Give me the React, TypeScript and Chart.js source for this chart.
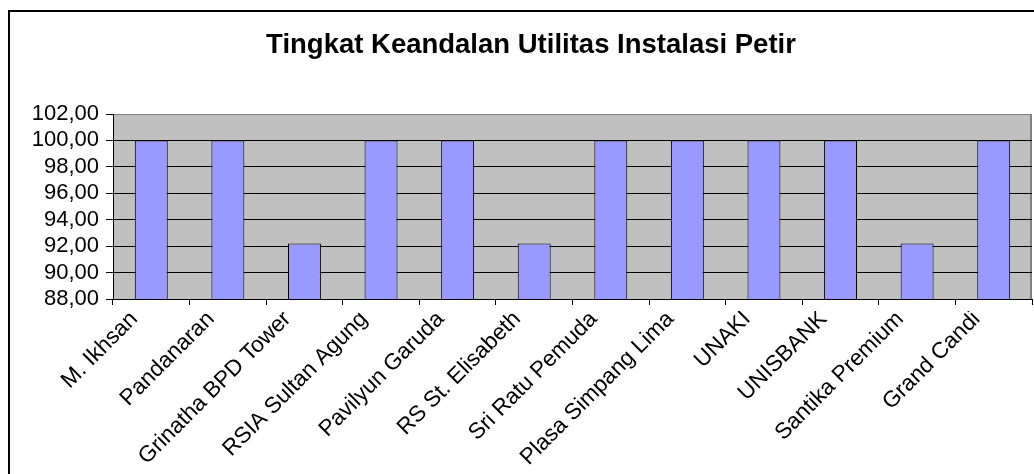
import React, { useEffect, useRef } from 'react';
import { Chart, registerables } from 'chart.js';

Chart.register(...registerables);

const chartTitle = 'Tingkat Keandalan Utilitas Instalasi Petir';
const categories = [
  'M. Ikhsan',
  'Pandanaran',
  'Grinatha BPD Tower',
  'RSIA Sultan Agung',
  'Pavilyun Garuda',
  'RS St. Elisabeth',
  'Sri Ratu Pemuda',
  'Plasa Simpang Lima',
  'UNAKI',
  'UNISBANK',
  'Santika Premium',
  'Grand Candi',
];
const values = [100, 100, 92.2, 100, 100, 92.2, 100, 100, 100, 100, 92.2, 100];
const yTicks = [88, 90, 92, 94, 96, 98, 100, 102];

const FONT = "'Liberation Sans', Arial, Helvetica, sans-serif";
const W = 1034;
const H = 474;
const LABEL_CLIP_Y = 311;

const plotPlugin = {
  id: 'plotPlugin',
  beforeDraw(chart: any) {
    const { ctx, chartArea: a } = chart;
    ctx.save();
    ctx.fillStyle = '#C0C0C0';
    ctx.fillRect(a.left, a.top, a.right - a.left, a.bottom - a.top);
    ctx.strokeStyle = '#808080';
    ctx.lineWidth = 2;
    ctx.beginPath();
    ctx.moveTo(a.right - 1, a.top);
    ctx.lineTo(a.right - 1, a.bottom);
    ctx.stroke();
    ctx.restore();
  },
  afterDatasetsDraw(chart: any) {
    const ctx = chart.ctx;
    ctx.save();
    ctx.beginPath();
    ctx.rect(0, LABEL_CLIP_Y, chart.width, chart.height - LABEL_CLIP_Y);
    ctx.clip();
  },
  afterDraw(chart: any) {
    chart.ctx.restore();
  },
};

export default function App() {
  const ref = useRef<HTMLCanvasElement | null>(null);

  useEffect(() => {
    document.body.style.margin = '0';
    document.body.style.overflow = 'hidden';
    const canvas = ref.current;
    if (!canvas) return;
    const chart = new Chart(canvas, {
      type: 'bar',
      data: {
        labels: categories,
        datasets: [
          {
            data: values,
            backgroundColor: '#9999FF',
            borderColor: '#000000',
            borderWidth: 1,
            barPercentage: 0.43,
            categoryPercentage: 1,
          },
        ],
      },
      options: {
        animation: false,
        responsive: false,
        maintainAspectRatio: false,
        devicePixelRatio: 1,
        layout: { padding: { left: 30, right: 2, top: 12, bottom: 0 } },
        plugins: {
          legend: { display: false },
          tooltip: { enabled: false },
          title: {
            display: true,
            text: chartTitle,
            color: '#000000',
            font: { family: FONT, size: 27.5, weight: 'bold' },
            padding: { top: 17, bottom: 52 },
          },
        },
        scales: {
          x: {
            grid: {
              offset: true,
              drawOnChartArea: false,
              drawTicks: true,
              tickLength: 6,
              color: '#000000',
              tickColor: '#000000',
            },
            border: { color: '#000000', width: 1 },
            ticks: {
              color: '#000000',
              font: { family: FONT, size: 22.5 },
              minRotation: 45,
              maxRotation: 45,
              autoSkip: false,
              padding: 1,
              labelOffset: -17,
              z: 1,
            },
            afterFit: (s: any) => {
              s.height = 175;
            },
          },
          y: {
            min: yTicks[0],
            max: yTicks[yTicks.length - 1],
            ticks: {
              stepSize: yTicks[1] - yTicks[0],
              autoSkip: false,
              color: '#000000',
              font: { family: FONT, size: 22 },
              padding: 7,
              callback: (v: any) => Number(v).toFixed(2).replace('.', ','),
            },
            grid: {
              color: (c: any) =>
                c.tick && c.tick.value === yTicks[yTicks.length - 1] ? '#808080' : '#000000',
              tickColor: '#000000',
              tickLength: 7,
              lineWidth: 1,
            },
            border: { color: '#000000', width: 1 },
            afterFit: (s: any) => {
              s.width = 83;
            },
          },
        },
      },
      plugins: [plotPlugin],
    });
    return () => chart.destroy();
  }, []);

  return (
    <div style={{ position: 'relative', width: W, height: H, overflow: 'hidden', background: '#fff' }}>
      <div
        style={{
          position: 'absolute',
          left: 8,
          top: 10,
          width: W + 100,
          height: H + 100,
          border: '2px solid #000',
          boxSizing: 'border-box',
        }}
      />
      <canvas
        ref={ref}
        width={W}
        height={H}
        style={{ position: 'absolute', left: 0, top: 0, width: W, height: H, display: 'block' }}
      />
    </div>
  );
}
